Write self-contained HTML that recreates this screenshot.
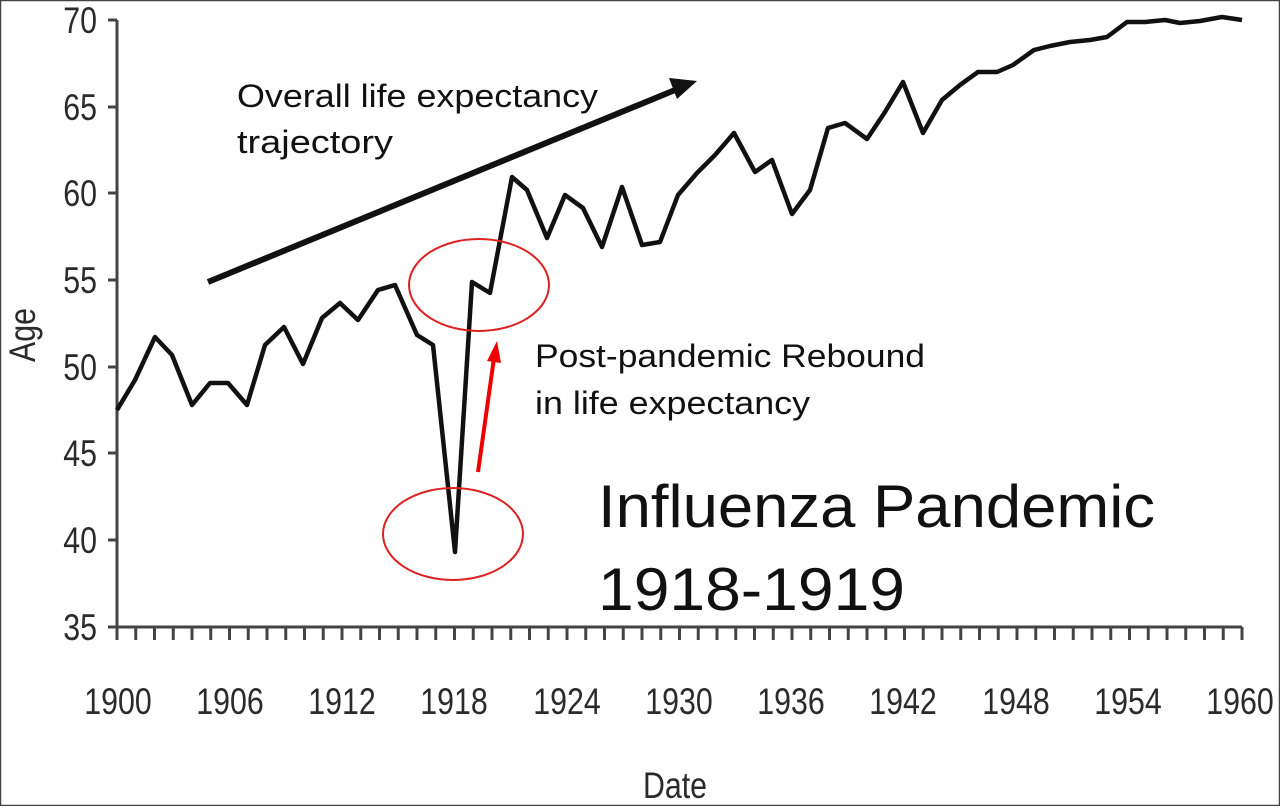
<!DOCTYPE html>
<html><head><meta charset="utf-8"><style>
html,body{margin:0;padding:0;background:#fff}
body{width:1280px;height:806px;overflow:hidden}
</style></head><body>
<svg width="1280" height="806" xmlns="http://www.w3.org/2000/svg">
<rect x="0.5" y="0.5" width="1279" height="805" fill="#fff" stroke="#444" stroke-width="1.5"/>
<g stroke="#444" stroke-width="3" fill="none">
<line x1="117" y1="20" x2="117" y2="627"/>
<line x1="108" y1="627" x2="1242" y2="627"/>
<line x1="108" y1="20" x2="117" y2="20"/>
<line x1="108" y1="107" x2="117" y2="107"/>
<line x1="108" y1="193" x2="117" y2="193"/>
<line x1="108" y1="280" x2="117" y2="280"/>
<line x1="108" y1="367" x2="117" y2="367"/>
<line x1="108" y1="453" x2="117" y2="453"/>
<line x1="108" y1="540" x2="117" y2="540"/>
</g>
<g id="ticks" stroke="#444" stroke-width="3"></g>
<g font-family="Liberation Sans, sans-serif" font-size="37" fill="#2a2a2a" text-anchor="end">
<text transform="translate(97,33) scale(0.82,1)">70</text>
<text transform="translate(97,120) scale(0.82,1)">65</text>
<text transform="translate(97,206) scale(0.82,1)">60</text>
<text transform="translate(97,293) scale(0.82,1)">55</text>
<text transform="translate(97,380) scale(0.82,1)">50</text>
<text transform="translate(97,466) scale(0.82,1)">45</text>
<text transform="translate(97,553) scale(0.82,1)">40</text>
<text transform="translate(97,640) scale(0.82,1)">35</text>
</g>
<g font-family="Liberation Sans, sans-serif" font-size="37" fill="#2a2a2a" text-anchor="middle">
<text transform="translate(118,714) scale(0.82,1)">1900</text>
<text transform="translate(230,714) scale(0.82,1)">1906</text>
<text transform="translate(342,714) scale(0.82,1)">1912</text>
<text transform="translate(454,714) scale(0.82,1)">1918</text>
<text transform="translate(567,714) scale(0.82,1)">1924</text>
<text transform="translate(679,714) scale(0.82,1)">1930</text>
<text transform="translate(791,714) scale(0.82,1)">1936</text>
<text transform="translate(903,714) scale(0.82,1)">1942</text>
<text transform="translate(1016,714) scale(0.82,1)">1948</text>
<text transform="translate(1128,714) scale(0.82,1)">1954</text>
<text transform="translate(1240,714) scale(0.82,1)">1960</text>
<text transform="translate(675,798) scale(0.82,1)">Date</text>
<text transform="translate(35,335) rotate(-90) scale(0.82,1)">Age</text>
</g>
<polyline fill="none" stroke="#111" stroke-width="4.5" stroke-linejoin="round" points="117,410 135,380 155,337 172,355 192,405 210,383 228,383 247,405 265,345 284,327 303,364 322,318 340,303 358,320 378,290 395,285 417,335 433,345 455,552 472,282 490,293 512,177 527,190 547,238 565,195 583,208 602,247 622,187 642,245 660,242 678,195 697,173 715,155 734,133 755,172 772,160 792,214 810,190 828,128 845,123 867,139 885,112 903,82 923,133 942,100 960,85 978,72 997,72 1013,65 1034,50 1050,46 1070,42 1090,40 1107,37 1127,22 1145,22 1165,20 1180,23 1200,21 1222,17 1242,20"/>
<line x1="208" y1="282" x2="675" y2="90" stroke="#111" stroke-width="6"/>
<polygon points="697,81 669,78 677,99" fill="#111"/>
<ellipse cx="479" cy="285" rx="70" ry="46" fill="none" stroke="#d22" stroke-width="2"/>
<ellipse cx="453" cy="534" rx="70" ry="46" fill="none" stroke="#d22" stroke-width="2"/>
<line x1="478" y1="472" x2="494" y2="358" stroke="#e00" stroke-width="4"/>
<polygon points="497,341 487,361 501,363" fill="#e00"/>
<g font-family="Liberation Sans, sans-serif" fill="#111">
<text x="237" y="107" font-size="32" textLength="361" lengthAdjust="spacingAndGlyphs">Overall life expectancy</text>
<text x="237" y="153" font-size="32" textLength="156" lengthAdjust="spacingAndGlyphs">trajectory</text>
<text x="535" y="367" font-size="32" textLength="390" lengthAdjust="spacingAndGlyphs">Post-pandemic Rebound</text>
<text x="535" y="414" font-size="32" textLength="275" lengthAdjust="spacingAndGlyphs">in life expectancy</text>
<text x="598" y="527" font-size="60" textLength="557" lengthAdjust="spacingAndGlyphs">Influenza Pandemic</text>
<text x="598" y="610" font-size="60" textLength="307" lengthAdjust="spacingAndGlyphs">1918-1919</text>
</g>
</svg>
<script>
var g=document.getElementById('ticks'),s='';
for(var i=0;i<=60;i++){var x=117+i*18.75;s+='<line x1="'+x+'" y1="627" x2="'+x+'" y2="640"/>';}
g.innerHTML=s;
</script>
</body></html>
